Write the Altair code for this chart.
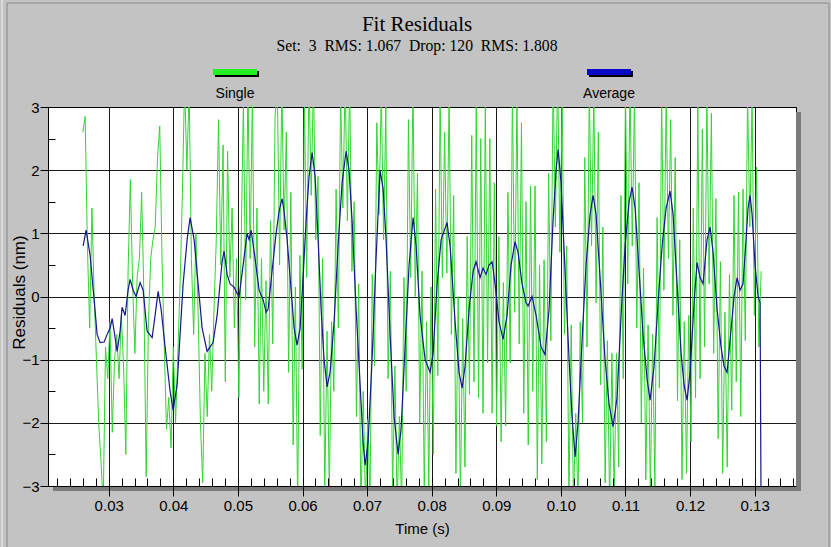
import altair as alt
import pandas as pd

# ---------------------------------------------------------------- data
TITLE = "Fit Residuals"
SUBTITLE = "Set:\u00a0\u00a03\u00a0\u00a0RMS: 1.067\u00a0\u00a0Drop: 120\u00a0\u00a0RMS: 1.808"
SERIES = ["Single", "Average"]

X_MAJOR = [0.03, 0.04, 0.05, 0.06, 0.07, 0.08, 0.09, 0.10, 0.11, 0.12, 0.13]
X_MINOR = [round(0.022 + 0.002 * k, 3) for k in range(58)]
Y_MAJOR = [-3, -2, -1, 0, 1, 2, 3]
Y_MINOR = [-2.5, -1.5, -0.5, 0.5, 1.5, 2.5]

# single-shot residuals, sampled every 0.35 ms from 26.0 ms (nm)
SINGLE_START_MS = 26.0
SINGLE_STEP_MS = 0.35
SINGLE_NM = [
    2.6, 2.85, 0.8, -0.5, 1.4, 0.0, -1.0, -2.0, -2.6, -3.3,
    -0.8, -1.3, -0.4, -2.15, -1.0, -0.6, -1.3, -0.3, -1.1, -2.5,
    0.4, 1.85, 0.2, -0.9, 0.3, 0.6, 1.65, 0.0, -2.85, -0.4,
    0.6, 0.9, 1.1, 2.2, 2.7, 0.6, -0.8, -2.1, -1.6, -2.4,
    -0.8, -2.0, -0.9, 0.2, 1.6, 3.4, 2.0, 3.3, 0.6, -0.6,
    1.0, -0.3, -2.0, -2.95, -0.9, -1.9, -0.6, -1.5, -0.2, 0.9,
    2.8, 0.5, 2.4, -1.35, 2.3, 0.3, 1.4, -0.5, 0.6, -1.6,
    0.8, 3.1, -0.05, 3.4, 0.6, 3.25, -0.8, 1.4, -1.7, 0.6,
    -1.5, 0.25, -1.7, 1.2, -0.75, 2.85, 3.35, 0.5, 3.35, 1.05,
    2.6, -1.2, 1.65, -2.35, 0.15, -3.35, 0.65, -1.15, 3.2, 0.3,
    3.5, 1.6, 3.45, 0.9, 1.9, -2.2, 0.6, -3.1, -0.55, -3.1,
    -0.4, -1.5, 1.7, -0.5, 3.25, 1.4, 3.45, 1.2, 3.4, 0.4,
    1.5, -1.9, 0.2, -3.4, -1.5, -3.3, -1.95, -3.2, 0.35, -1.1,
    2.75, 1.3, 3.25, 0.9, 3.0, -1.3, 0.4, -3.1, -1.1, -3.3,
    -1.9, -3.3, 0.3, -1.5, 2.8, 0.3, 3.35, 0.0, 1.95, -2.0,
    0.4, -3.1, -0.4, -3.0, 0.15, -2.5, 1.7, -1.25, 3.2, 0.3,
    2.6, 0.37, 3.2, -0.6, 1.6, -2.8, 0.0, -3.25, -0.35, -2.7,
    0.95, -1.55, 2.55, -1.35, 3.05, -1.6, 2.5, -1.85, 3.05, -1.05,
    2.5, -1.85, 1.8, -2.05, 0.95, -2.3, 0.22, -2.05, 1.65, -1.05,
    3.25, -0.25, 3.2, -0.75, 2.75, -1.85, 1.5, -2.35, 1.75, -1.5,
    1.75, -2.9, 0.5, -2.65, 0.58, -2.3, 1.95, -0.7, 3.55, 1.1,
    3.6, 0.7, 3.2, -0.6, 0.8, -3.2, -0.45, -3.3, -1.85, -3.3,
    -0.4, -2.0, 2.2, -0.8, 3.3, 0.8, 3.25, -0.1, 2.6, -1.4,
    1.1, -2.95, -0.7, -3.35, -0.9, -3.2, -0.9, -2.7, 1.6, -1.3,
    3.25, 0.2, 3.4, 0.8, 3.2, -0.5, 1.8, -2.0, 0.45, -2.9,
    -0.45, -3.1, -0.6, -3.0, 1.25, -1.45, 3.2, 0.1, 3.2, 0.6,
    2.8, -0.3, 2.2, -1.65, 0.9, -2.9, -0.4, -2.8, -0.3, -2.3,
    1.4, -1.6, 3.1, -1.3, 2.65, -0.8, 3.2, 0.2, 2.9, -0.9,
    1.55, -2.25, 0.55, -2.8, -0.25, -2.7, 0.35, -1.8, 1.6, -1.35,
    1.65, -1.9, 1.7, -0.7, 3.2, 1.1, 3.1, -0.3, 2.05, -0.8,
    0.4,
]

# averaged residuals: (time in ms, residual in nm)
AVERAGE = [
    (26.04, 0.80), (26.50, 1.05), (27.12, 0.65), (27.74, -0.05), (28.20, -0.60),
    (28.67, -0.73), (29.29, -0.72), (29.75, -0.60), (30.22, -0.50), (30.53, -0.35),
    (30.84, -0.55), (31.30, -0.87), (31.76, -0.55), (32.07, -0.17), (32.54, -0.30),
    (33.00, 0.10), (33.31, 0.27), (33.78, 0.10), (34.24, 0.00), (34.86, 0.22),
    (35.33, 0.10), (35.94, -0.55), (36.72, -0.65), (37.18, -0.30), (37.65, 0.08),
    (38.11, -0.20), (38.73, -0.80), (39.50, -1.50), (39.97, -1.80), (40.59, -1.40),
    (41.05, -0.60), (41.52, 0.20), (42.14, 0.90), (42.60, 1.25), (43.22, 0.90),
    (43.84, 0.20), (44.46, -0.50), (45.23, -0.87), (46.16, -0.73), (46.78, -0.30),
    (47.55, 0.55), (47.86, 0.72), (48.33, 0.35), (48.79, 0.20), (49.41, 0.15),
    (49.88, 0.05), (50.19, 0.00), (50.81, 0.50), (51.42, 1.00), (51.73, 0.90),
    (52.04, 1.05), (52.66, 0.60), (53.28, 0.10), (53.90, -0.05), (54.37, -0.25),
    (54.68, -0.20), (55.29, 0.40), (55.91, 1.00), (56.38, 1.35), (56.84, 1.55),
    (57.15, 1.35), (57.62, 0.90), (58.24, 0.10), (58.70, -0.50), (59.16, -0.77),
    (59.63, -0.50), (60.09, 0.30), (60.56, 1.20), (61.02, 1.90), (61.49, 2.28),
    (61.95, 1.90), (62.42, 0.90), (62.88, -0.20), (63.34, -1.00), (63.81, -1.43),
    (64.27, -1.20), (64.89, -0.40), (65.51, 0.80), (66.13, 1.80), (66.75, 2.30),
    (67.21, 2.00), (67.68, 1.20), (68.30, -0.20), (68.92, -1.40), (69.38, -2.30),
    (69.69, -2.67), (70.16, -2.30), (70.77, -1.00), (71.39, 0.60), (72.01, 2.00),
    (72.48, 1.70), (72.94, 0.90), (73.56, -0.60), (74.18, -1.90), (74.80, -2.50),
    (75.26, -2.10), (75.88, -0.80), (76.50, 0.50), (77.12, 1.25), (77.59, 0.80),
    (78.20, -0.30), (78.98, -1.00), (79.75, -1.20), (80.22, -0.90), (80.84, 0.20),
    (81.46, 0.90), (82.38, 1.17), (82.85, 0.80), (83.62, -0.40), (84.24, -1.20),
    (84.71, -1.45), (85.17, -1.10), (85.79, -0.20), (86.41, 0.40), (86.87, 0.55),
    (87.49, 0.30), (87.96, 0.45), (88.42, 0.35), (88.89, 0.50), (89.35, 0.55),
    (89.81, 0.20), (90.43, -0.40), (91.05, -0.68), (91.67, -0.30), (92.29, 0.50),
    (92.91, 0.87), (93.37, 0.70), (93.99, 0.20), (94.61, -0.10), (94.92, -0.15),
    (95.54, 0.00), (96.16, -0.30), (96.94, -0.80), (97.55, -0.92), (98.17, -0.20),
    (98.79, 1.20), (99.26, 2.00), (99.57, 2.33), (100.03, 1.80), (100.65, 0.40),
    (101.27, -1.00), (101.73, -1.90), (102.20, -2.54), (102.66, -2.00), (103.28, -0.70),
    (103.90, 0.50), (104.52, 1.30), (104.99, 1.60), (105.45, 1.30), (106.07, 0.30),
    (106.84, -1.00), (107.46, -1.70), (108.08, -2.06), (108.70, -1.60), (109.32, -0.30),
    (109.94, 0.80), (110.56, 1.50), (111.02, 1.73), (111.49, 1.40), (112.11, 0.40),
    (112.72, -0.60), (113.34, -1.30), (113.81, -1.64), (114.43, -1.10), (115.05, -0.10),
    (115.67, 0.80), (116.29, 1.40), (116.90, 1.67), (117.37, 1.30), (117.99, 0.20),
    (118.61, -0.90), (119.07, -1.40), (119.54, -1.64), (120.00, -1.20), (120.62, -0.10),
    (121.08, 0.54), (121.55, 0.30), (122.01, 0.20), (122.63, 0.90), (123.10, 1.10),
    (123.56, 0.70), (124.18, -0.20), (124.80, -0.80), (125.26, -1.10), (125.73, -1.20),
    (126.19, -0.70), (126.81, 0.00), (127.28, 0.30), (127.74, 0.10), (128.20, 0.20),
    (128.67, 0.90), (128.98, 1.40), (129.29, 1.60), (129.60, 1.30), (130.06, 0.50),
    (130.53, 0.00), (130.84, -0.10), (130.99, -3.30),
]

# ---------------------------------------------------------------- frames
single_df = pd.DataFrame({
    "time": [(SINGLE_START_MS + i * SINGLE_STEP_MS) / 1000.0 for i in range(len(SINGLE_NM))],
    "residual": SINGLE_NM,
})
average_df = pd.DataFrame({
    "time": [t / 1000.0 for t, _ in AVERAGE],
    "residual": [v for _, v in AVERAGE],
})
legend_df = pd.DataFrame({"series": SERIES})

# ---------------------------------------------------------------- style
W, H = 748, 379
SANS = "Liberation Sans"
SERIF = "Liberation Serif"
GREEN_LINE = "#33d433"
BLUE_LINE = "#16168e"
GREEN_SWATCH = "#22ee22"
BLUE_SWATCH = "#0808c8"
PANEL = "#c3c3c3"
SHADOW = "#7b7b7b"

x_scale = alt.Scale(domain=[0.0206, 0.1364], nice=False, zero=False)
y_scale = alt.Scale(domain=[-3, 3], nice=False, zero=False)

grid_x_axis = alt.Axis(orient="bottom", values=X_MAJOR, grid=True, gridColor="#000000",
                       gridOpacity=0.9, gridWidth=1, ticks=False, labels=False,
                       domain=False, title=None)
grid_y_axis = alt.Axis(orient="left", values=Y_MAJOR, grid=True, gridColor="#000000",
                       gridOpacity=0.9, gridWidth=1, ticks=False, labels=False,
                       domain=False, title=None)

main_x_axis = alt.Axis(orient="bottom", values=X_MAJOR, format=".2f", grid=False,
                       ticks=True, tickSize=10, tickColor="#000000", tickWidth=1,
                       domain=True, domainColor="#000000",
                       labelFont=SANS, labelFontSize=15, labelColor="#000000",
                       labelPadding=2, labelFlush=False, labelOverlap=False,
                       title="Time (s)", titleFont=SANS, titleFontSize=15,
                       titleFontWeight="normal", titleColor="#000000",
                       titleX=W / 2, titleY=47, titleBaseline="alphabetic",
                       titleAlign="center", zindex=1)
main_y_axis = alt.Axis(orient="left", values=Y_MAJOR, format="d", grid=False,
                       ticks=True, tickSize=8, tickColor="#000000", tickWidth=1,
                       domain=True, domainColor="#000000",
                       labelFont=SANS, labelFontSize=15, labelColor="#000000",
                       labelPadding=1, labelFlush=False, labelOverlap=False,
                       title="Residuals (nm)", titleFont=SANS, titleFontSize=17,
                       titleFontWeight="normal", titleColor="#000000",
                       titleAngle=270, titleX=-24, titleY=185,
                       titleBaseline="alphabetic", titleAlign="center", zindex=1)

minor_x_axis = alt.Axis(orient="bottom", values=X_MINOR, offset=-8, tickSize=8,
                        tickColor="#000000", grid=False, labels=False, domain=False,
                        title=None, zindex=1)
minor_y_axis = alt.Axis(orient="left", values=Y_MINOR, offset=-7, tickSize=7,
                        tickColor="#000000", grid=False, labels=False, domain=False,
                        title=None, zindex=1)

# ---------------------------------------------------------------- layers
blank = alt.Data(values=[{}])

shadow_right = alt.Chart(blank).mark_rect(color=SHADOW).encode(
    x=alt.value(W), x2=alt.value(W + 5), y=alt.value(5), y2=alt.value(H + 5))
shadow_bottom = alt.Chart(blank).mark_rect(color=SHADOW).encode(
    x=alt.value(5), x2=alt.value(W + 5), y=alt.value(H), y2=alt.value(H + 5))

green = alt.Chart(single_df).mark_line(color=GREEN_LINE, strokeWidth=1, clip=True).encode(
    x=alt.X("time:Q", scale=x_scale, axis=grid_x_axis),
    y=alt.Y("residual:Q", scale=y_scale, axis=grid_y_axis),
    order="time:Q",
)
blue = alt.Chart(average_df).mark_line(color=BLUE_LINE, strokeWidth=1.2, clip=True).encode(
    x=alt.X("time:Q", scale=x_scale, axis=main_x_axis),
    y=alt.Y("residual:Q", scale=y_scale, axis=main_y_axis),
    order="time:Q",
)
minor = alt.Chart(average_df).mark_line(strokeOpacity=0, clip=True).encode(
    x=alt.X("time:Q", scale=x_scale, axis=minor_x_axis),
    y=alt.Y("residual:Q", scale=y_scale, axis=minor_y_axis),
)

plot = alt.layer(shadow_right, shadow_bottom, green, blue, minor).resolve_axis(
    x="independent", y="independent")

# legend entries spread across the top of the plot
legend_x = alt.X("series:N", scale=alt.Scale(type="point", domain=SERIES, padding=0.5), axis=None)
swatch_color = alt.Color("series:N", scale=alt.Scale(domain=SERIES, range=[GREEN_SWATCH, BLUE_SWATCH]),
                         legend=None)
swatch_shadow = alt.Chart(legend_df).mark_rect(color="#000000", xOffset=-20, x2Offset=24).encode(
    x=legend_x, x2="series:N", y=alt.value(-36), y2=alt.value(-30))
swatch = alt.Chart(legend_df).mark_rect(xOffset=-22, x2Offset=22).encode(
    x=legend_x, x2="series:N", y=alt.value(-38), y2=alt.value(-32), color=swatch_color)
swatch_label = alt.Chart(legend_df).mark_text(font=SANS, fontSize=14, color="#000000",
                                              baseline="middle", align="center").encode(
    x=legend_x, y=alt.value(-13), text="series:N")
legend = alt.layer(swatch_shadow, swatch, swatch_label)

# window border
border = alt.layer(
    alt.Chart(blank).mark_rule(color="#8a8a8a").encode(
        x=alt.value(-41), y=alt.value(-104), y2=alt.value(440)),
    alt.Chart(blank).mark_rule(color="#8a8a8a").encode(
        x=alt.value(-41), x2=alt.value(781), y=alt.value(-104)),
    alt.Chart(blank).mark_rule(color="#eeeeee").encode(
        x=alt.value(-46), y=alt.value(-107), y2=alt.value(440)),
    alt.Chart(blank).mark_rule(color="#8a8a8a").encode(
        x=alt.value(781), y=alt.value(-104), y2=alt.value(440)),
)

chart = alt.layer(border, plot, legend).resolve_scale(x="independent").properties(
    width=W, height=H,
    title=alt.TitleParams(
        text=TITLE, subtitle=SUBTITLE, anchor="middle", dx=-5, offset=-54,
        font=SERIF, fontSize=21, fontWeight="normal", color="#000000",
        subtitleFont=SERIF, subtitleFontSize=15.7, subtitleColor="#000000",
        subtitlePadding=4,
    ),
    autosize=alt.AutoSizeParams(type="none"),
    padding={"left": 48, "top": 107, "right": 35, "bottom": 61},
    background=PANEL,
).configure_view(stroke="#000000", strokeWidth=1, fill="#ffffff")

chart.save("out.html", embed_options={"renderer": "svg", "actions": False})
